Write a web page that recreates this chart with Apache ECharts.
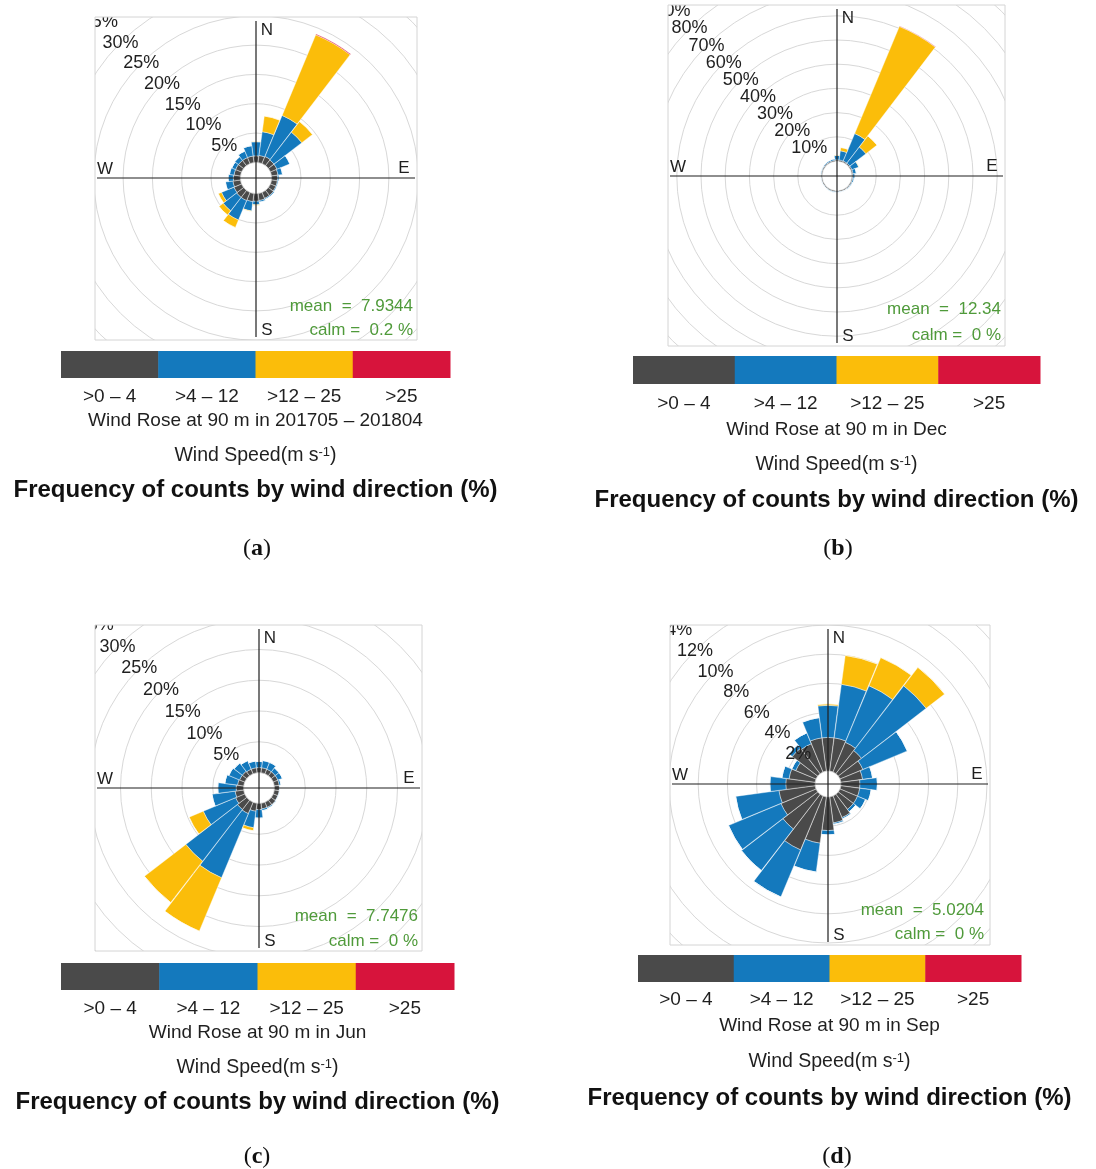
<!DOCTYPE html>
<html>
<head>
<meta charset="utf-8">
<script src="https://cdn.jsdelivr.net/npm/echarts@6/dist/echarts.min.js"></script>
<style>
    html, body { margin: 0; padding: 0; background: #fff; }
    #chart-container { width: 1096px; height: 1169px; }
</style>
</head>
<body>
<div id="chart-container"></div>
<script>
// wind direction bins, 15 degrees each
const directions = ['0', '15', '30', '45', '60', '75', '90', '105', '120', '135', '150', '165',
    '180', '195', '210', '225', '240', '255', '270', '285', '300', '315', '330', '345'];
const speedClasses = ['>0 – 4', '>4 – 12', '>12 – 25', '>25'];
const speedColors = ['#4a4a4a', '#1479bd', '#fbbd0a', '#d7143c'];

// (a) 201705 – 201804
const aSpeed0to4   = [1.1, 1.2, 1.3, 1.2, 1.2, 1.1, 1.0, 1.0, 1.0, 1.1, 1.1, 1.2, 1.3, 1.4, 1.5, 1.5, 1.4, 1.3, 1.2, 1.1, 1.1, 1.1, 1.1, 1.1];
const aSpeed4to12  = [2.4, 4.1, 7.6, 6.0, 2.4, 0.8, 0.3, 0.2, 0.2, 0.2, 0.2, 0.3, 0.6, 1.6, 3.6, 2.9, 2.3, 1.3, 0.9, 0.8, 0.7, 0.8, 1.2, 1.8];
const aSpeed12to25 = [0.1, 2.7, 14.9, 2.3, 0, 0, 0, 0, 0, 0, 0, 0, 0.1, 0.1, 1.4, 0.9, 0.6, 0, 0, 0, 0, 0, 0, 0];
const aSpeedOver25 = [0, 0, 0.15, 0, 0, 0, 0, 0, 0, 0, 0, 0, 0, 0, 0, 0, 0, 0, 0, 0, 0, 0, 0, 0];
const aRingTicks = [5, 10, 15, 20, 25, 30, 35];

// (b) Dec
const bSpeed0to4   = [0.5, 0.5, 0.5, 0.5, 0.5, 0.5, 0.4, 0.4, 0.4, 0.4, 0.4, 0.4, 0.4, 0.4, 0.4, 0.4, 0.4, 0.4, 0.4, 0.4, 0.4, 0.4, 0.4, 0.4];
const bSpeed4to12  = [1.8, 3.8, 12.3, 8.4, 3.0, 1.4, 0.9, 0.6, 0.4, 0.3, 0.2, 0.2, 0.3, 0.3, 0.3, 0.2, 0.2, 0.2, 0.2, 0.3, 0.3, 0.4, 0.5, 0.6];
const bSpeed12to25 = [0.2, 1.4, 48.0, 5.8, 0.2, 0, 0, 0, 0, 0, 0, 0, 0, 0, 0, 0, 0, 0, 0, 0, 0, 0, 0, 0];
const bSpeedOver25 = [0, 0, 0.2, 0, 0, 0, 0, 0, 0, 0, 0, 0, 0, 0, 0, 0, 0, 0, 0, 0, 0, 0, 0, 0];
const bRingTicks = [10, 20, 30, 40, 50, 60, 70, 80, 90];

// (c) Jun
const cSpeed0to4   = [0.8, 0.8, 0.8, 0.8, 0.8, 0.8, 0.8, 0.8, 0.8, 0.9, 0.9, 0.9, 1.0, 1.3, 2.0, 1.9, 1.6, 1.4, 1.2, 1.0, 0.9, 0.9, 0.8, 0.8];
const cSpeed4to12  = [1.0, 1.2, 1.2, 0.8, 0.8, 0.3, 0.1, 0.1, 0.1, 0.1, 0.2, 0.3, 1.4, 2.7, 11.3, 10.6, 5.7, 3.8, 3.0, 2.1, 1.9, 1.7, 1.5, 1.1];
const cSpeed12to25 = [0, 0, 0, 0, 0, 0, 0, 0, 0, 0, 0, 0, 0, 0.5, 9.4, 8.5, 2.5, 0, 0, 0, 0, 0, 0, 0];
const cSpeedOver25 = [0, 0, 0, 0, 0, 0, 0, 0, 0, 0, 0, 0, 0, 0, 0, 0, 0, 0, 0, 0, 0, 0, 0, 0];
const cRingTicks = [5, 10, 15, 20, 25, 30, 35];

// (d) Sep
const dSpeed0to4   = [2.3, 2.3, 2.2, 2.0, 1.7, 1.5, 1.3, 1.3, 1.3, 1.3, 1.6, 1.8, 2.3, 3.2, 4.0, 3.0, 2.6, 2.5, 2.0, 1.8, 1.5, 2.2, 2.1, 2.3];
const dSpeed4to12  = [2.2, 3.7, 4.2, 5.6, 3.3, 0.7, 1.2, 0.8, 0.6, 0.2, 0.1, 0.1, 0.3, 2.0, 3.5, 3.6, 3.9, 3.0, 1.1, 0.5, 0.3, 0.3, 0.8, 1.4];
const dSpeed12to25 = [0.1, 2.0, 2.1, 1.6, 0, 0, 0, 0, 0, 0, 0, 0, 0, 0, 0, 0, 0, 0, 0, 0, 0, 0, 0, 0];
const dSpeedOver25 = [0, 0, 0, 0, 0, 0, 0, 0, 0, 0, 0, 0, 0, 0, 0, 0, 0, 0, 0, 0, 0, 0, 0, 0];
const dRingTicks = [2, 4, 6, 8, 10, 12, 14];

const titles = ['Wind Rose at 90 m in 201705 – 201804', 'Wind Rose at 90 m in Dec', 'Wind Rose at 90 m in Jun', 'Wind Rose at 90 m in Sep'];
const means = ['7.9344', '12.34', '7.7476', '5.0204'];
const calms = ['0.2', '0', '0', '0'];
const letters = ['a', 'b', 'c', 'd'];

// 版面位置 (layout only)
const panels = [
    { data: [aSpeed0to4, aSpeed4to12, aSpeed12to25, aSpeedOver25], ticks: aRingTicks,
      box: [95, 17, 417, 340], cx: 256, cy: 178, off: 15.7, scale: 5.86,
      legend: [61, 351, 450, 378], textY: [397, 421, 456, 490, 549], letterX: 257, statX: 413, statY: [306, 330] },
    { data: [bSpeed0to4, bSpeed4to12, bSpeed12to25, bSpeedOver25], ticks: bRingTicks,
      box: [668, 5, 1005, 346], cx: 837, cy: 176, off: 15, scale: 2.42,
      legend: [633, 356, 1040, 384], textY: [404, 430, 465, 500, 549], letterX: 838, statX: 1001, statY: [309, 335] },
    { data: [cSpeed0to4, cSpeed4to12, cSpeed12to25, cSpeedOver25], ticks: cRingTicks,
      box: [95, 625, 422, 951], cx: 259, cy: 788, off: 15.5, scale: 6.15,
      legend: [61, 963, 454, 990], textY: [1009, 1033, 1068, 1102, 1157], letterX: 257, statX: 418, statY: [916, 941] },
    { data: [dSpeed0to4, dSpeed4to12, dSpeed12to25, dSpeedOver25], ticks: dRingTicks,
      box: [670, 625, 990, 945], cx: 828, cy: 784, off: 13, scale: 14.6,
      legend: [638, 955, 1021, 982], textY: [1000, 1026, 1062, 1098, 1157], letterX: 837, statX: 984, statY: [910, 934] }
];

const sans = 'Liberation Sans, Arial, sans-serif';

function txt(x, y, text, size, opts) {
    opts = opts || {};
    return {
        type: 'text', x: x, y: y, z: opts.z || 70, silent: true,
        style: {
            text: text, fill: opts.fill || '#1f1f1f',
            font: (opts.bold ? 'bold ' : '') + size + 'px ' + (opts.family || sans),
            align: opts.align || 'center', textAlign: opts.align || 'center',
            verticalAlign: 'middle', textVerticalAlign: 'middle',
            rich: opts.rich
        }
    };
}

const chart = echarts.init(document.getElementById('chart-container'));

const polar = [], angleAxis = [], radiusAxis = [], series = [], graphic = [];

panels.forEach((p, i) => {
    const max = p.ticks[p.ticks.length - 1];
    const step = p.ticks[1] - p.ticks[0];
    polar.push({ center: [p.cx, p.cy], radius: [p.off, p.off + max * p.scale] });
    angleAxis.push({
        polarIndex: i, type: 'category', data: directions,
        startAngle: 97.5, clockwise: true,
        axisLine: { show: false }, axisTick: { show: false },
        axisLabel: { show: false }, splitLine: { show: false }
    });
    radiusAxis.push({
        polarIndex: i, type: 'value', min: 0, max: max, interval: step,
        axisLine: { show: false }, axisTick: { show: false }, axisLabel: { show: false },
        splitLine: { show: true, lineStyle: { color: '#d8d8d8', width: 1 } }
    });
    p.data.forEach((vals, k) => {
        series.push({
            type: 'bar', coordinateSystem: 'polar', polarIndex: i,
            name: speedClasses[k], stack: 'rose' + i, data: vals,
            barCategoryGap: '2%',
            itemStyle: { color: speedColors[k], borderColor: '#fff', borderWidth: 0.4 }
        });
    });

    // ring labels along the NW diagonal
    p.ticks.forEach(v => {
        const r = p.off + v * p.scale;
        graphic.push(txt(p.cx - r * 0.7071, p.cy - r * 0.7071, v + '%', 18, { z: 40 }));
    });

    // white frame so the rings stop at the panel box
    const [x0, y0, x1, y1] = p.box;
    const band = 80;
    [[x0 - band, y0 - band, x1 - x0 + 2 * band, band],
     [x0 - band, y1, x1 - x0 + 2 * band, band],
     [x0 - band, y0, band, y1 - y0],
     [x1, y0, band, y1 - y0]].forEach(b => {
        graphic.push({ type: 'rect', z: 50, silent: true,
            shape: { x: b[0], y: b[1], width: b[2], height: b[3] }, style: { fill: '#fff' } });
    });
    graphic.push({ type: 'rect', z: 60, silent: true,
        shape: { x: x0, y: y0, width: x1 - x0, height: y1 - y0 },
        style: { fill: 'none', stroke: '#d4d4d4', lineWidth: 1 } });

    // compass cross
    graphic.push({ type: 'line', z: 60, silent: true,
        shape: { x1: x0 + 2, y1: p.cy, x2: x1 - 2, y2: p.cy }, style: { stroke: '#1e1e1e', lineWidth: 1.2 } });
    graphic.push({ type: 'line', z: 60, silent: true,
        shape: { x1: p.cx, y1: y0 + 4, x2: p.cx, y2: y1 - 3 }, style: { stroke: '#1e1e1e', lineWidth: 1.2 } });
    graphic.push(txt(p.cx + 11, y0 + 13, 'N', 17));
    graphic.push(txt(x1 - 13, p.cy - 10, 'E', 17));
    graphic.push(txt(p.cx + 11, y1 - 10, 'S', 17));
    graphic.push(txt(x0 + 10, p.cy - 9, 'W', 17));

    // mean / calm
    graphic.push(txt(p.statX, p.statY[0], 'mean  =  ' + means[i], 17, { align: 'right', fill: '#4f9a3a' }));
    graphic.push(txt(p.statX, p.statY[1], 'calm =  ' + calms[i] + ' %', 17, { align: 'right', fill: '#4f9a3a' }));

    // speed colour bar
    const [lx0, ly0, lx1, ly1] = p.legend;
    const segW = (lx1 - lx0) / speedColors.length;
    speedColors.forEach((c, k) => {
        graphic.push({ type: 'rect', z: 70, silent: true,
            shape: { x: lx0 + k * segW, y: ly0, width: segW + 0.5, height: ly1 - ly0 }, style: { fill: c } });
        graphic.push(txt(lx0 + (k + 0.5) * segW, p.textY[0], speedClasses[k], 19));
    });
    const midX = (lx0 + lx1) / 2;
    graphic.push(txt(midX, p.textY[1], titles[i], 19));
    graphic.push(txt(midX, p.textY[2], 'Wind Speed(m s{sup|-1})', 19.5, {
        rich: { sup: { fontSize: 13, fontFamily: sans, verticalAlign: 'top', padding: [0, 0, 8, 0] } }
    }));
    graphic.push(txt(midX, p.textY[3], 'Frequency of counts by wind direction (%)', 24, { bold: true, fill: '#111' }));
    graphic.push(txt(p.letterX, p.textY[4], '({b|' + letters[i] + '})', 24, {
        family: 'Liberation Serif, Times New Roman, serif', fill: '#111',
        rich: { b: { fontWeight: 'bold', fontSize: 24, fontFamily: 'Liberation Serif, serif' } }
    }));
});

chart.setOption({
    animation: false,
    backgroundColor: '#fff',
    polar: polar,
    angleAxis: angleAxis,
    radiusAxis: radiusAxis,
    series: series,
    graphic: { elements: graphic }
});
</script>
</body>
</html>
